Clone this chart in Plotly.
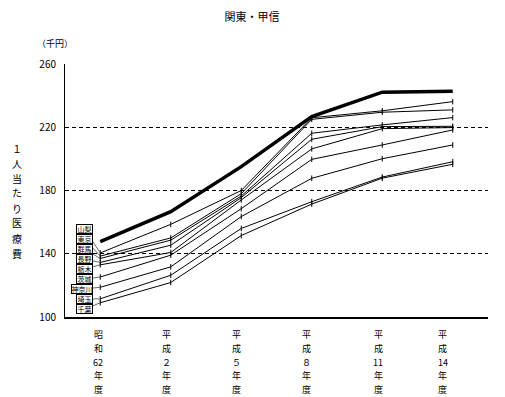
import plotly.graph_objects as go

categories = ["昭和62年度", "平成2年度", "平成5年度", "平成8年度", "平成11年度", "平成14年度"]
tick_chars = [["昭", "和", "62", "年", "度"], ["平", "成", "２", "年", "度"], ["平", "成", "５", "年", "度"],
              ["平", "成", "８", "年", "度"], ["平", "成", "11", "年", "度"], ["平", "成", "14", "年", "度"]]

national = [147.7, 166.6, 195.1, 226.7, 242.2, 242.8]
yamanashi = [140.5, 158.6, 180.0, 226.0, 230.4, 236.2]
tokyo = [138.5, 150.0, 178.0, 225.0, 229.5, 231.0]
gunma = [137.0, 148.6, 176.5, 216.2, 221.5, 226.1]
nagano = [134.5, 145.4, 175.5, 212.4, 220.4, 220.6]
tochigi = [133.0, 140.8, 174.0, 206.3, 219.1, 219.8]
ibaraki = [125.3, 139.1, 168.5, 199.7, 208.8, 218.3]
kanagawa = [118.8, 131.7, 163.5, 187.7, 200.1, 208.8]
saitama = [111.5, 126.4, 156.0, 172.9, 188.5, 198.2]
chiba = [109.0, 121.8, 151.5, 171.4, 187.8, 196.6]

series_names = ["山梨", "東京", "群馬", "長野", "栃木", "茨城", "神奈川", "埼玉", "千葉"]
series_values = [yamanashi, tokyo, gunma, nagano, tochigi, ibaraki, kanagawa, saitama, chiba]
label_y = [155.6, 149.2, 142.9, 136.6, 130.3, 123.9, 117.6, 111.3, 104.9]

y_ticks = [100, 140, 180, 220, 260]
y_title_chars = ["１", "人", "当", "た", "り", "医", "療", "費"]

FONT = "Noto Sans CJK JP"

fig = go.Figure()
for name, vals in zip(series_names, series_values):
    fig.add_trace(go.Scatter(
        x=categories, y=vals, name=name, mode="lines+markers",
        line=dict(color="black", width=1),
        marker=dict(symbol="line-ns-open", size=4, line=dict(color="black", width=1)),
        showlegend=False,
    ))
fig.add_trace(go.Scatter(
    x=categories, y=national, name="全国", mode="lines",
    line=dict(color="black", width=3.5), showlegend=False,
))

annotations = []
for name, vals, ly in zip(series_names, series_values, label_y):
    three = len(name) == 3
    annotations.append(dict(
        x=categories[0], y=vals[0], xref="x", yref="y",
        text=name, showarrow=True, arrowhead=0, arrowwidth=0.8, arrowcolor="#444",
        ax=-18 if three else -15.5, ay=ly, axref="pixel", ayref="y",
        width=20 if three else 15, height=8,
        bordercolor="black", borderwidth=1, borderpad=0, bgcolor="white",
        font=dict(family=FONT, size=7, color="black"),
    ))

# category labels written vertically under the axis
row_y = [-0.0711, -0.1245, -0.1779, -0.2312, -0.2846]
x_shift = [-2, -4, -5, -5, -4, -10]
for cat, chars, xs in zip(categories, tick_chars, x_shift):
    for ch, ry in zip(chars, row_y):
        annotations.append(dict(
            x=cat, y=ry, xref="x", yref="paper", text=ch, showarrow=False,
            xshift=xs, xanchor="center", yanchor="middle",
            font=dict(family=FONT, size=9, color="black"),
        ))

# vertical y-axis title
for i, ch in enumerate(y_title_chars):
    ypix = 148 + 15 * i
    annotations.append(dict(
        x=-0.1135, y=(317 - ypix) / 253, xref="paper", yref="paper", text=ch,
        showarrow=False, xanchor="center", yanchor="middle",
        font=dict(family=FONT, size=10, color="black"),
    ))

annotations.append(dict(
    x=-0.024, y=1.083, xref="paper", yref="paper", text="（千円）", showarrow=False,
    font=dict(family=FONT, size=9, color="black"), xanchor="center", yanchor="middle",
))

# the page adds an 8px body margin, so the figure is 8px smaller on each axis
fig.update_layout(
    width=497, height=389,
    margin=dict(l=57, r=17, t=56, b=80),
    paper_bgcolor="white", plot_bgcolor="white",
    title=dict(text="関東・甲信", x=0.491, xref="container", y=0.977, yref="container",
               xanchor="center", yanchor="middle",
               font=dict(family=FONT, size=11, color="black")),
    annotations=annotations,
    font=dict(family=FONT, color="black"),
)
fig.update_xaxes(
    type="category", range=[-0.5, 5.5],
    tickvals=categories, showticklabels=False,
    showline=True, linecolor="black", linewidth=1.5,
    showgrid=False, ticks="",
)
fig.update_yaxes(
    range=[100, 260], tickvals=y_ticks, ticktext=[str(v) for v in y_ticks],
    showline=True, linecolor="black", linewidth=1,
    showgrid=True, gridcolor="black", gridwidth=1, griddash="4px,3px",
    ticks="inside", ticklen=3, tickcolor="black",
    tickfont=dict(family=FONT, size=10, color="black"),
    ticklabelstandoff=6, zeroline=False,
)

fig.write_html("out.html")
